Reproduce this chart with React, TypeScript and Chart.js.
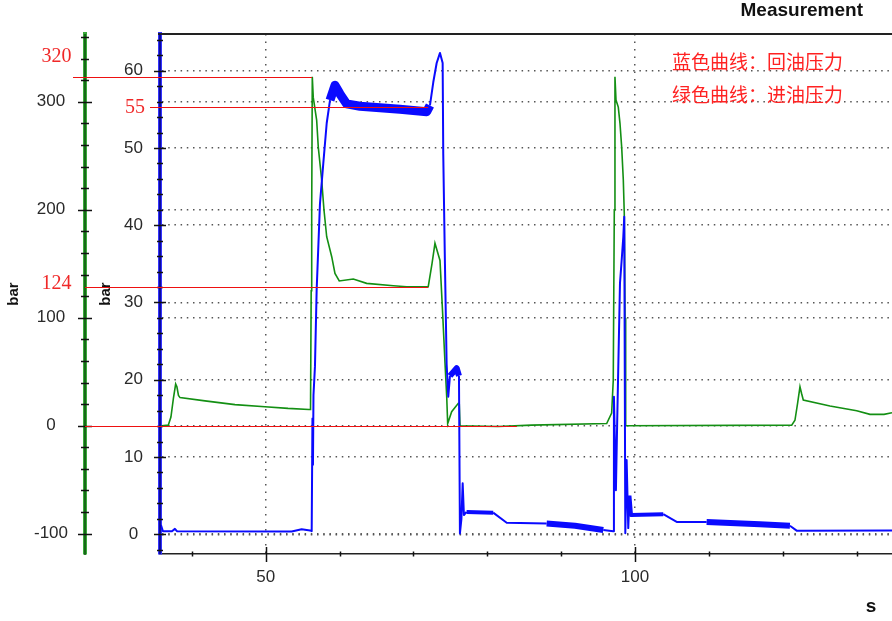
import React, { useEffect, useRef } from "react";
import { Chart, registerables } from "chart.js";

Chart.register(...registerables);

// ---- data (time in s, pressure in bar) ----
const TIME_INLET = [35.92, 36.81, 37.17, 37.5, 37.81, 37.98, 38.19, 38.4, 41.78, 45.84, 49.9, 53.02, 55.86, 56.07, 56.16, 56.23, 56.31, 56.44, 56.9, 57.12, 57.58, 57.89, 58.26, 58.94, 59.38, 59.96, 61.86, 63.67, 67.28, 69.09, 72.01, 72.52, 72.92, 73.6, 73.96, 74.28, 74.51, 74.64, 75.18, 76.08, 76.21, 76.31, 81.45, 86.0, 96.17, 96.84, 97.06, 97.2, 97.29, 97.43, 97.74, 97.97, 98.2, 98.42, 98.55, 98.65, 98.74, 121.22, 121.66, 122.0, 122.34, 122.55, 122.79, 126.4, 130.02, 131.82, 133.72, 134.8];
const INLET_BAR = [0, 0.5, 8, 25, 38.6, 36, 28, 26, 23, 19.5, 17.6, 16, 15, 15, 125, 200, 323, 304, 283, 258, 227.5, 200, 175, 156.5, 141, 134, 135.8, 131.8, 129.6, 128.7, 128.7, 150, 168.9, 153, 104, 57.8, 26.8, 2, 13, 20.7, 20, 0, -0.8, 0.5, 2, 11.6, 42, 200, 323, 301.6, 295, 280, 258, 227.5, 196.7, 100, 0, 0.5, 5, 20, 36, 30, 23.8, 18.2, 13.9, 10.5, 10.5, 12];

const TIME_RETURN = [35.82, 36.09, 37.31, 37.71, 37.98, 53.52, 54.87, 56.0, 56.23, 56.33, 56.4, 56.47, 56.67, 56.9, 57.35, 57.8, 58.26, 58.71, 59.38, 60.06, 60.97, 62.77, 65.48, 68.18, 71.8, 72.24, 72.69, 73.15, 73.6, 73.96, 74.04, 74.27, 74.5, 74.72, 74.95, 75.86, 76.17, 76.3, 76.5, 76.67, 76.84, 77.2, 80.8, 82.63, 88.04, 91.88, 95.71, 97.06, 97.15, 97.42, 97.6, 97.97, 98.2, 98.42, 98.55, 98.69, 98.87, 99.09, 99.25, 99.46, 103.83, 105.65, 109.7, 116.92, 120.98, 121.89, 134.8];
const RETURN_BAR = [1.2, 0.4, 0.4, 0.7, 0.4, 0.35, 0.65, 0.5, 0.4, 15, 9, 18, 21.7, 31.6, 42.8, 48, 53.2, 56.2, 58.1, 57, 55.7, 55.4, 55.2, 55.0, 54.7, 55.5, 58.5, 61, 62.3, 61, 49.3, 35, 22, 17.8, 20.5, 21.5, 20.5, 0.1, 2, 6.6, 2.5, 2.9, 2.8, 1.5, 1.4, 1.1, 0.56, 0.4, 17.8, 5.7, 15, 32.5, 35.5, 38.5, 41.1, 0.13, 9.6, 0.8, 5, 2.5, 2.6, 1.6, 1.6, 1.3, 1.1, 0.47, 0.5];

// axis ranges and tick values
const X_RANGE = [35.69, 134.8];
const RETURN_RANGE = [-2.55, 64.75];
const INLET_RANGE = [-118.8, 362.7];
const X_TICKS = [50, 100];
const RETURN_TICKS = [0, 10, 20, 30, 40, 50, 60];
const INLET_TICKS = [-100, 0, 100, 200, 300];
const X_MINOR_STEP = 10;
const RETURN_MINOR_STEP = 2;
const INLET_MINOR_STEP = 20;

// texts
const TITLE = "Measurement";
const X_TITLE = "s";
const Y_TITLE = "bar";
const NOTE_LINES = ["蓝色曲线：回油压力", "绿色曲线：进油压力"];

// hand-drawn red marker lines: axis, value, end time, label
const MARKS = [
  { axis: "yG", value: 322.5, end: 56.27, label: "320" },
  { axis: "yB", value: 55.25, end: 72.0, label: "55" },
  { axis: "yG", value: 128.7, end: 72.0, label: "124" },
  { axis: "yG", value: 0, end: 84.0, label: "" },
];

// time ranges where the return-pressure trace is a dense noise band (style only)
const NOISE_BANDS = [
  [58.6, 72.3, 9],
  [74.9, 76.2, 6],
  [76.9, 80.9, 4],
  [87.5, 95.8, 6],
  [99.2, 103.9, 4],
  [109.5, 121.0, 6],
];

const FONT = "'Liberation Sans', Arial, sans-serif";
const RED = "#f02828";

const bandWidth = (c: any) => {
  const a = c.p0.parsed.x;
  const b = c.p1.parsed.x;
  for (const [s, e, w] of NOISE_BANDS) if (a >= s && b <= e) return w;
  return undefined;
};

const fixedTicks = (values: number[]) => (s: any) => {
  s.ticks = values.map((v) => ({ value: v }));
};

const decor = {
  id: "decor",
  afterDraw(chart: any) {
    const { ctx, chartArea: ca, scales } = chart;
    const xs = scales.x;
    const yB = scales.yB;
    const yG = scales.yG;
    const seg = (x1: number, y1: number, x2: number, y2: number, color: string, w: number) => {
      ctx.beginPath();
      ctx.strokeStyle = color;
      ctx.lineWidth = w;
      ctx.moveTo(x1, y1);
      ctx.lineTo(x2, y2);
      ctx.stroke();
    };
    ctx.save();
    // frame top
    seg(ca.left - 2, ca.top, ca.right, ca.top, "#222", 2);
    // dark centre of coloured axis lines
    seg(yG.right, ca.top, yG.right, ca.bottom + 1, "#0c520c", 1.5);
    seg(yB.right, ca.top, yB.right, ca.bottom, "#00007a", 1.5);
    // y ticks crossing the axis lines
    for (let v = Math.ceil(yB.min / RETURN_MINOR_STEP) * RETURN_MINOR_STEP; v <= yB.max; v += RETURN_MINOR_STEP) {
      const py = Math.round(yB.getPixelForValue(v)) + 0.5;
      const h = RETURN_TICKS.includes(v) ? 6 : 3;
      seg(yB.right - h, py, yB.right + h, py, "#111", 1.5);
    }
    for (let v = Math.ceil(yG.min / INLET_MINOR_STEP) * INLET_MINOR_STEP; v <= yG.max; v += INLET_MINOR_STEP) {
      const py = Math.round(yG.getPixelForValue(v)) + 0.5;
      const h = INLET_TICKS.includes(v) ? 7 : 4;
      seg(yG.right - h, py, yG.right + h, py, "#111", 1.5);
    }
    for (let v = Math.ceil(xs.min / X_MINOR_STEP) * X_MINOR_STEP; v <= xs.max; v += X_MINOR_STEP) {
      const px = Math.round(xs.getPixelForValue(v)) + 0.5;
      const major = X_TICKS.includes(v);
      seg(px, ca.bottom - (major ? 7 : 2.5), px, ca.bottom + (major ? 8 : 2.5), "#111", 1.5);
    }
    // red marker lines and labels
    ctx.font = `20px 'Liberation Serif', 'Times New Roman', serif`;
    ctx.fillStyle = RED;
    ctx.textAlign = "center";
    ctx.textBaseline = "middle";
    MARKS.forEach((m, i) => {
      const sc = m.axis === "yB" ? yB : yG;
      const py = Math.round(sc.getPixelForValue(m.value)) + 0.5;
      const x1 = i === 0 ? yG.right - 12 : m.axis === "yB" ? yB.right - 10 : yG.right;
      seg(x1, py, xs.getPixelForValue(m.end), py, "#ee1111", 1.2);
      if (m.label) {
        const lx = m.axis === "yB" ? yB.right - 25 : yG.right - 28.5;
        const ly = i === 0 ? py - 21 : i === 2 ? py - 4 : py;
        ctx.fillText(m.label, lx, ly);
      }
    });
    // Chinese notes
    ctx.font = `19px 'Noto Sans CJK SC', sans-serif`;
    ctx.fillStyle = "#ff2222";
    ctx.textAlign = "left";
    ctx.fillText(NOTE_LINES[0], ca.right - 220, ca.top + 28);
    ctx.fillText(NOTE_LINES[1], ca.right - 220, ca.top + 61);
    // header and x title
    ctx.fillStyle = "#111";
    ctx.font = `bold 19px ${FONT}`;
    ctx.textAlign = "right";
    ctx.textBaseline = "alphabetic";
    ctx.fillText(TITLE, ca.right - 29, 16);
    ctx.textAlign = "center";
    ctx.fillText(X_TITLE, ca.right - 21, 612);
    ctx.restore();
  },
};

const yAxis = (range: number[], ticks: number[], weight: number, width: number, borderColor: string, titlePad: number) => ({
  type: "linear" as const,
  position: "left" as const,
  weight,
  min: range[0],
  max: range[1],
  afterBuildTicks: fixedTicks(ticks),
  ticks: {
    crossAlign: "center" as const,
    padding: 17,
    color: "#2a2a2a",
    font: { size: 17, family: FONT },
  },
  grid: { drawTicks: false, color: "#555", lineWidth: 1.5 },
  border: { display: true, color: borderColor, width: 4, dash: [1.5, 4.7] },
  title: {
    display: true,
    text: Y_TITLE,
    color: "#111",
    font: { size: 15, weight: "bold" as const, family: FONT },
    padding: { top: titlePad, bottom: 0 },
  },
  afterFit: (s: any) => {
    s.width = width;
  },
});

export default function App() {
  const ref = useRef<HTMLCanvasElement | null>(null);
  useEffect(() => {
    if (!ref.current) return;
    const chart = new Chart(ref.current, {
      type: "line",
      data: {
        datasets: [
          {
            label: "回油压力",
            data: TIME_RETURN.map((t, i) => ({ x: t, y: RETURN_BAR[i] })),
            yAxisID: "yB",
            borderColor: "#0a0aff",
            borderWidth: 2,
            pointRadius: 0,
            tension: 0,
            borderJoinStyle: "round",
            segment: { borderWidth: bandWidth },
            order: 0,
          },
          {
            label: "进油压力",
            data: TIME_INLET.map((t, i) => ({ x: t, y: INLET_BAR[i] })),
            yAxisID: "yG",
            borderColor: "#138f13",
            borderWidth: 1.6,
            pointRadius: 0,
            tension: 0,
            order: 1,
          },
        ],
      },
      options: {
        animation: false,
        responsive: false,
        events: [],
        layout: { padding: { top: 34, left: 0, right: 0, bottom: 0 } },
        plugins: { legend: { display: false }, tooltip: { enabled: false }, title: { display: false } },
        scales: {
          x: {
            type: "linear",
            position: "bottom",
            min: X_RANGE[0],
            max: X_RANGE[1],
            afterBuildTicks: fixedTicks(X_TICKS),
            ticks: {
              padding: 13,
              maxRotation: 0,
              autoSkip: false,
              color: "#2a2a2a",
              font: { size: 17, family: FONT },
            },
            grid: { drawTicks: false, color: "#555", lineWidth: 1.5 },
            border: { display: true, color: "#222", width: 1.5, dash: [1.5, 6] },
            afterFit: (s: any) => {
              s.height = 67;
            },
          },
          yB: yAxis(RETURN_RANGE, RETURN_TICKS, 0, 75, "#3333ff", 12),
          yG: yAxis(INLET_RANGE, INLET_TICKS, 1, 85, "#3aaa3a", 5),
        },
      },
      plugins: [decor],
    } as any);
    return () => chart.destroy();
  }, []);
  return (
    <div style={{ position: "absolute", left: 0, top: 0, width: 892, height: 621, background: "#fff" }}>
      <canvas ref={ref} width={892} height={621} style={{ display: "block" }} />
    </div>
  );
}
